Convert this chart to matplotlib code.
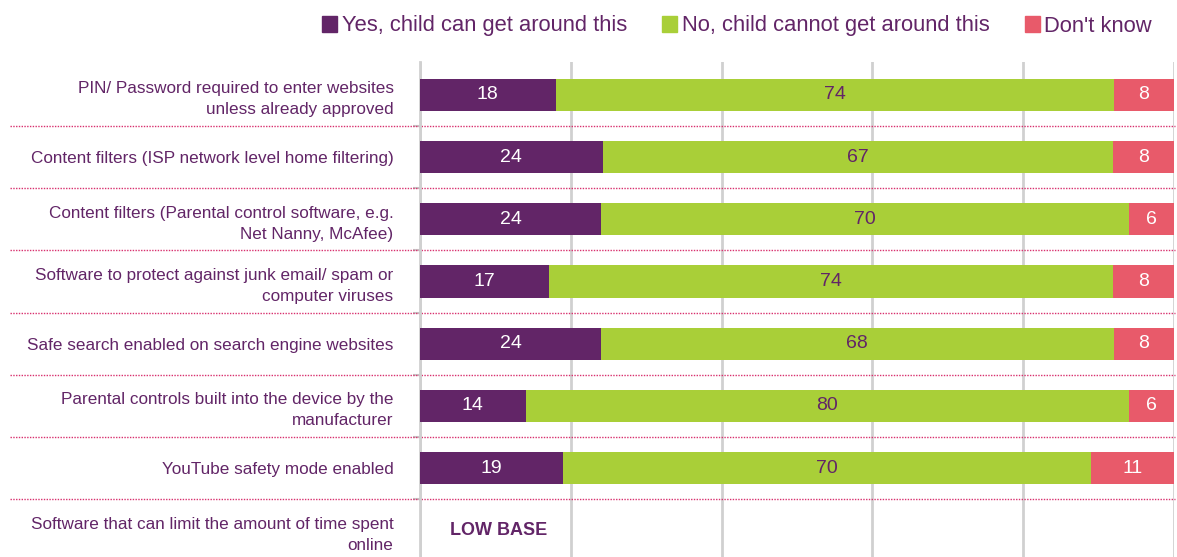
import numpy as np
import matplotlib
matplotlib.use("Agg")
import matplotlib.pyplot as plt
from matplotlib.patches import Patch

plt.rcParams['font.family'] = ['Liberation Sans', 'DejaVu Sans']

# data
categories = [
    "PIN/ Password required to enter websites\nunless already approved",
    "Content filters (ISP network level home filtering)",
    "Content filters (Parental control software, e.g.\nNet Nanny, McAfee)",
    "Software to protect against junk email/ spam or\ncomputer viruses",
    "Safe search enabled on search engine websites",
    "Parental controls built into the device by the\nmanufacturer",
    "YouTube safety mode enabled",
    "Software that can limit the amount of time spent\nonline",
]
yes_vals = [18, 24, 24, 17, 24, 14, 19]
no_vals = [74, 67, 70, 74, 68, 80, 70]
dk_vals = [8, 8, 6, 8, 8, 6, 11]
series_names = ["Yes, child can get around this", "No, child cannot get around this", "Don't know"]
low_base_label = "LOW BASE"

PURPLE = '#622567'
GREEN = '#a9cf38'
RED = '#e85a6a'
TEXT = '#622567'

fig = plt.figure(figsize=(11.77, 5.57), dpi=100)
ax = fig.add_axes([420/1177, 0, 754/1177, 1 - 62/557])

n = len(categories)
ypos = np.arange(n)
yes = np.array(yes_vals, float)
no = np.array(no_vals, float)
dk = np.array(dk_vals, float)
tot = yes + no + dk
# bars fill the full width (shares of the row total)
yes_p = yes / tot * 100
no_p = no / tot * 100
dk_p = dk / tot * 100

rows = ypos[:len(yes_vals)]
h = 0.52
ax.barh(rows, yes_p, height=h, color=PURPLE, zorder=3)
ax.barh(rows, no_p, left=yes_p, height=h, color=GREEN, zorder=3)
ax.barh(rows, dk_p, left=yes_p + no_p, height=h, color=RED, zorder=3)

for i in range(len(rows)):
    ax.text(yes_p[i] / 2, rows[i], f"{yes_vals[i]:g}", ha='center', va='center',
            color='white', fontsize=14, zorder=4)
    ax.text(yes_p[i] + no_p[i] / 2, rows[i], f"{no_vals[i]:g}", ha='center', va='center',
            color=TEXT, fontsize=14, zorder=4)
    ax.text(yes_p[i] + no_p[i] + dk_p[i] / 2, rows[i], f"{dk_vals[i]:g}", ha='center',
            va='center', color='white', fontsize=14, zorder=4)

ax.text(10.4, n - 1, low_base_label, ha='center', va='center', color=TEXT,
        fontsize=13, fontweight='bold')

ax.set_xlim(0, 100)
ax.set_ylim(7.43, -0.53)

# vertical gridlines
ax.set_xticks([0, 20, 40, 60, 80, 100])
ax.xaxis.grid(True, color='#d0d0d0', linewidth=2, zorder=0)
ax.tick_params(axis='x', length=0, labelbottom=False)

ax.set_yticks(ypos)
ax.set_yticklabels(categories, fontsize=12.3, color=TEXT, linespacing=1.5)
ax.tick_params(axis='y', length=0, pad=19)
ax.set_yticks(ypos[:-1] + 0.5, minor=True)
ax.tick_params(axis='y', which='minor', length=5, width=1.5, color='#c8c8c8')

for s in ['top', 'right', 'bottom']:
    ax.spines[s].set_visible(False)
ax.spines['left'].set_color('#d0d0d0')
ax.spines['left'].set_linewidth(2)

# dotted separators between rows
for y in ypos[:-1] + 0.5:
    ax.plot([-410/754*100, 100.1], [y, y], color='#d8306e', linestyle=(0, (1, 1)),
            linewidth=1, clip_on=False, zorder=2)

handles = [Patch(color=c) for c in (PURPLE, GREEN, RED)]
leg = fig.legend(handles, series_names, loc='center', bbox_to_anchor=(737/1177, 1 - 26/557),
                 ncol=3, frameon=False, fontsize=15.8, handlelength=0.7, handleheight=0.7,
                 handletextpad=0.2, columnspacing=1.6)
for t in leg.get_texts():
    t.set_color(TEXT)

fig.savefig('out.png', dpi=100)
